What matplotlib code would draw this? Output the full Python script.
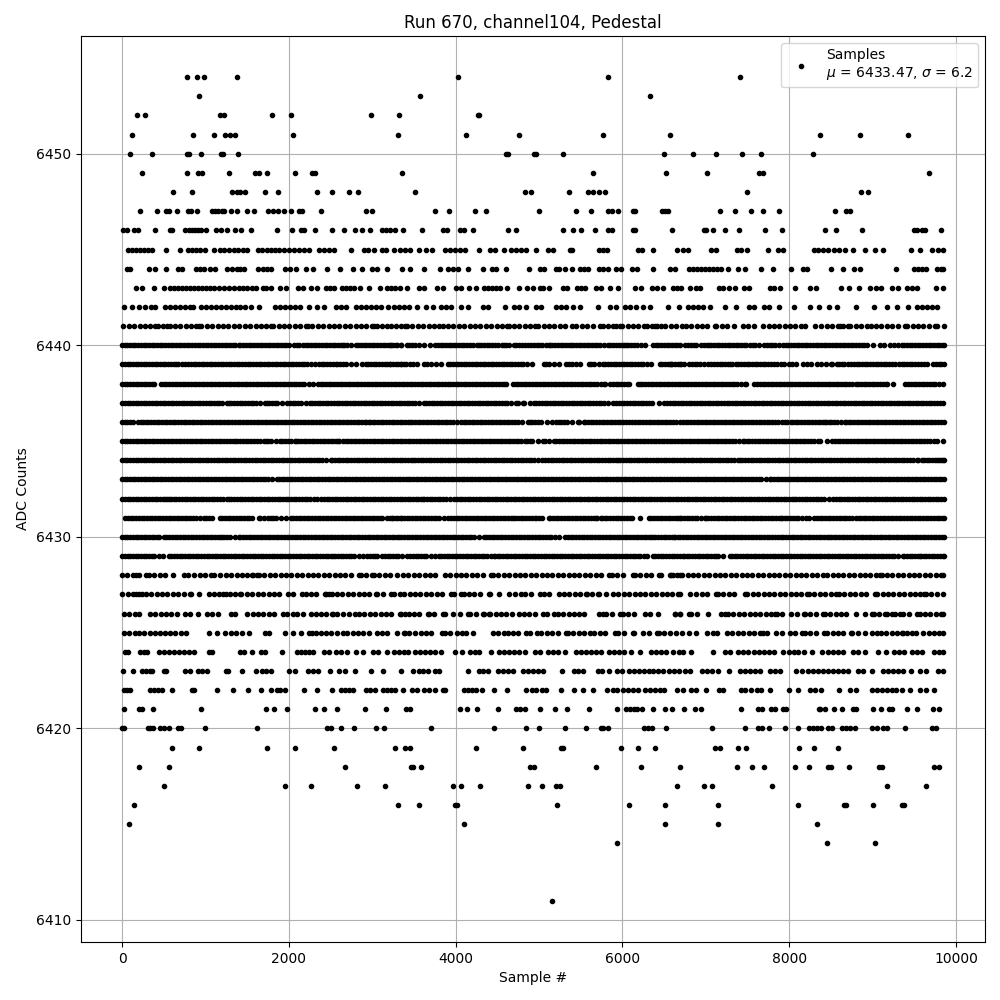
import matplotlib
matplotlib.use("Agg")
import matplotlib.pyplot as plt

# sample numbers, one list per ADC level
s6454 = [774, 894, 978, 1373, 4030, 5828, 7408]
s6453 = [918, 3575, 6331]
s6452 = [176, 271, 1180, 1220, 1792, 2031, 2988, 3323, 4269, 4280]
s6451 = [116, 846, 1097, 1229, 1289, 1349, 2055, 3312, 4126, 4760, 5769, 6570, 8366, 8845, 9431]
s6450 = [92, 355, 775, 806, 946, 1190, 1215, 1385, 4608, 4625, 4936, 4960, 5290, 6499, 6848, 7121, 7432, 7660, 8282]
s6449 = [235, 774, 914, 958, 1277, 1588, 1636, 1732, 2079, 2280, 2312, 3360, 5649, 6523, 7013, 7644, 7684, 9683]
s6448 = [606, 834, 1313, 1373, 1420, 1480, 1708, 1875, 2342, 2522, 2725, 2833, 3515, 4832, 4907, 5362, 5589, 5649,
         5721, 5793, 7492, 8857, 8941]
s6447 = [211, 415, 523, 559, 654, 786, 826, 894, 1073, 1117, 1145, 1193, 1217, 1301, 1373, 1504, 1576, 1755, 1815,
         1875, 1947, 2031, 2127, 2163, 2390, 2928, 3000, 3754, 3922, 4233, 4365, 5002, 5445, 5625, 5828, 5876, 5948,
         6128, 6152, 6475, 6511, 6547, 7169, 7349, 7541, 7684, 7876, 8546, 8678, 8726]
s6446 = [8, 56, 140, 188, 391, 571, 595, 750, 798, 834, 870, 906, 942, 1001, 1121, 1181, 1253, 1349, 1432, 1540, 1863,
         2043, 2151, 2187, 2318, 2522, 2665, 2797, 2881, 2977, 3120, 3168, 3216, 3276, 3372, 3599, 3850, 3898, 4054,
         4102, 4209, 4628, 4724, 5282, 5410, 5505, 5673, 5828, 5876, 6128, 6152, 6595, 6978, 7002, 7085, 7229, 7397,
         7708, 7911, 8426, 8558, 8869, 9503, 9539, 9599, 9635, 9827]
s6445 = [68, 116, 164, 211, 259, 307, 355, 523, 690, 786, 834, 882, 930, 990, 1097, 1169, 1217, 1277, 1337, 1396, 1456,
         1504, 1624, 1672, 1743, 1791, 1839, 1887, 1947, 2007, 2067, 2127, 2187, 2247, 2366, 2426, 2486, 2546, 2749,
         2905, 2953, 3025, 3120, 3168, 3264, 3336, 3396, 3456, 3563, 3647, 3719, 3874, 3930, 3994, 4050, 4114, 4281,
         4413, 4472, 4580, 4664, 4724, 4788, 4848, 4968, 5108, 5168, 5368, 5400, 5720, 5768, 5816, 6188, 6236, 6368,
         6656, 6728, 6788, 7064, 7128, 7376, 7424, 7496, 7748, 7868, 7928, 8300, 8348, 8408, 8468, 8540, 8600, 8672,
         8768, 8912, 9032, 9124, 9464, 9572, 9716, 9788, 9848]
s6444 = [56, 92, 319, 391, 523, 666, 714, 882, 930, 978, 1049, 1109, 1253, 1313, 1373, 1420, 1468, 1624, 1684, 1743,
         1791, 1959, 2019, 2091, 2211, 2295, 2461, 2617, 2773, 2881, 3000, 3060, 3180, 3360, 3456, 3623, 3814, 3910,
         3970, 4030, 4150, 4329, 4437, 4485, 4604, 4880, 5016, 5064, 5200, 5240, 5312, 5400, 5488, 5536, 5584, 5720,
         5768, 5828, 5928, 5980, 6116, 6176, 6368, 6568, 6632, 6800, 6848, 6896, 6944, 6992, 7040, 7088, 7136, 7184,
         7272, 7388, 7472, 7664, 7808, 8024, 8168, 8216, 8504, 8648, 8780, 8852, 9284, 9500, 9548, 9596, 9644, 9768,
         9816, 9848]
s6443 = [164, 235, 379, 499, 571, 618, 666, 714, 762, 810, 858, 906, 954, 1001, 1049, 1097, 1157, 1217, 1277, 1337,
         1408, 1456, 1504, 1552, 1600, 1684, 1728, 1791, 1899, 1971, 2115, 2175, 2271, 2342, 2450, 2498, 2546, 2641,
         2689, 2737, 2785, 2857, 2965, 3096, 3180, 3228, 3276, 3336, 3416, 3563, 3623, 3779, 3850, 4006, 4066, 4162,
         4245, 4341, 4389, 4437, 4485, 4532, 4616, 4760, 4856, 4928, 5008, 5048, 5120, 5288, 5336, 5456, 5504, 5552,
         5688, 5744, 5848, 5948, 6152, 6224, 6356, 6416, 6488, 6608, 6656, 6704, 6816, 6888, 6936, 7160, 7208, 7280,
         7352, 7460, 7520, 7776, 7820, 7892, 8072, 8252, 8324, 8624, 8720, 8836, 8972, 9044, 9104, 9236, 9308, 9416,
         9476, 9536, 9764, 9848]
s6442 = [20, 116, 200, 271, 343, 391, 511, 571, 630, 690, 750, 810, 846, 942, 1001, 1061, 1121, 1181, 1241, 1301, 1361,
         1420, 1480, 1540, 1636, 1839, 1899, 1959, 2019, 2079, 2139, 2247, 2342, 2426, 2570, 2630, 2689, 2809, 2869,
         2929, 2989, 3049, 3108, 3192, 3264, 3324, 3384, 3444, 3539, 3647, 3731, 3826, 3886, 3946, 4066, 4150, 4329,
         4389, 4592, 4700, 4760, 4848, 4968, 5028, 5208, 5268, 5328, 5408, 5488, 5712, 5848, 5928, 6032, 6096, 6160,
         6248, 6336, 6548, 6680, 6788, 6848, 6908, 6968, 7048, 7228, 7360, 7520, 7580, 7700, 7760, 7880, 8060, 8248,
         8360, 8480, 8576, 8804, 9016, 9168, 9296, 9428, 9528, 9588, 9648, 9708, 9768]
s6441 = [12, 78, 142, 210, 276, 340, 400, 428, 490, 540, 572, 636, 700, 766, 830, 890, 924, 952, 1018, 1082, 1146, 1212,
         1276, 1342, 1406, 1470, 1536, 1600, 1666, 1730, 1788, 1812, 1878, 1942, 2006, 2072, 2136, 2200, 2228, 2280,
         2346, 2410, 2476, 2540, 2604, 2670, 2734, 2800, 2864, 2928, 2994, 3020, 3060, 3120, 3172, 3228, 3290, 3340,
         3392, 3416, 3482, 3546, 3612, 3676, 3742, 3800, 3844, 3910, 3974, 4040, 4104, 4168, 4234, 4298, 4364, 4428,
         4494, 4558, 4616, 4636, 4702, 4766, 4832, 4896, 4956, 4988, 5054, 5118, 5182, 5248, 5312, 5396, 5448, 5514,
         5578, 5644, 5736, 5764, 5830, 5888, 5920, 5976, 5996, 6062, 6126, 6190, 6264, 6296, 6360, 6396, 6416, 6464,
         6516, 6580, 6646, 6720, 6760, 6826, 6890, 6954, 7020, 7108, 7128, 7194, 7258, 7336, 7448, 7512, 7580, 7688,
         7754, 7818, 7882, 7948, 8012, 8076, 8142, 8188, 8312, 8376, 8456, 8516, 8580, 8608, 8648, 8700, 8732, 8798,
         8862, 8928, 8976, 9040, 9104, 9170, 9234, 9300, 9388, 9416, 9480, 9546, 9610, 9676, 9748, 9768, 9856]
s6440 = [0, 64, 128, 194, 258, 324, 388, 452, 518, 582, 648, 712, 776, 842, 906, 972, 1036, 1100, 1166, 1230, 1296,
         1360, 1400, 1420, 1486, 1550, 1616, 1680, 1744, 1810, 1874, 1940, 2000, 2060, 2124, 2172, 2200, 2266, 2330,
         2396, 2460, 2524, 2590, 2652, 2660, 2740, 2800, 2866, 2930, 2994, 3060, 3124, 3190, 3254, 3340, 3216, 3282,
         3346, 3412, 3476, 3556, 3624, 3696, 3756, 3822, 3886, 3948, 3976, 4040, 4106, 4170, 4256, 4276, 4342, 4406,
         4472, 4556, 4576, 4640, 4704, 4728, 4794, 4868, 4908, 4972, 5038, 5116, 5128, 5194, 5258, 5324, 5388, 5408,
         5474, 5538, 5602, 5668, 5732, 5784, 5824, 5890, 5954, 6024, 6040, 6106, 6170, 6276, 6368, 6432, 6498, 6562,
         6626, 6696, 6756, 6820, 6888, 6948, 7012, 7068, 7100, 7164, 7230, 7294, 7360, 7424, 7488, 7568, 7588, 7636,
         7700, 7766, 7830, 7928, 7960, 8026, 8090, 8154, 8220, 8284, 8350, 8414, 8478, 8544, 8608, 8674, 8738, 8802,
         8868, 8928, 9008, 9088, 9140, 9208, 9256, 9308, 9348, 9414, 9478, 9542, 9608, 9672, 9738, 9802, 9852]
s6439 = [0, 66, 130, 194, 260, 324, 390, 454, 518, 584, 652, 668, 720, 760, 826, 890, 956, 1020, 1084, 1150, 1214, 1280,
         1344, 1408, 1474, 1538, 1604, 1668, 1732, 1800, 1828, 1892, 1958, 2022, 2088, 2152, 2216, 2312, 2360, 2426,
         2490, 2568, 2580, 2644, 2748, 2800, 2880, 2920, 2986, 3050, 3114, 3180, 3244, 3340, 3216, 3280, 3346, 3410,
         3488, 3536, 3624, 3656, 3704, 3768, 3824, 3904, 3968, 4034, 4098, 4164, 4228, 4292, 4358, 4422, 4488, 4552,
         4616, 4682, 4746, 4812, 4916, 5056, 5120, 5236, 5328, 5392, 5496, 5596, 5660, 5768, 5796, 5862, 5926, 5992,
         6056, 6120, 6186, 6250, 6348, 6448, 6514, 6578, 6696, 6568, 6632, 6736, 6800, 6866, 6930, 7028, 7068, 7132,
         7198, 7262, 7320, 7360, 7424, 7490, 7554, 7620, 7684, 7748, 7814, 7900, 7936, 8000, 8080, 8168, 8216, 8264,
         8328, 8380, 8444, 8510, 8568, 8592, 8656, 8740, 8776, 8842, 8906, 8972, 9036, 9100, 9166, 9230, 9268, 9316,
         9382, 9446, 9510, 9576, 9652, 9728, 9794, 9852]
s6438 = [0, 64, 130, 194, 260, 324, 388, 472, 500, 564, 630, 694, 760, 824, 888, 954, 1018, 1084, 1148, 1212, 1278,
         1342, 1408, 1472, 1536, 1602, 1666, 1732, 1796, 1860, 1926, 1990, 2056, 2120, 2184, 2288, 2348, 2412, 2478,
         2542, 2608, 2672, 2736, 2802, 2866, 2932, 2996, 3060, 3126, 3190, 3256, 3320, 3384, 3450, 3514, 3580, 3644,
         3708, 3774, 3838, 3904, 3968, 4032, 4098, 4162, 4228, 4292, 4356, 4422, 4486, 4552, 4604, 4688, 4752, 4816,
         4882, 4946, 5012, 5076, 5140, 5206, 5270, 5336, 5400, 5464, 5530, 5594, 5660, 5776, 5796, 5856, 5888, 5952,
         6018, 6082, 6184, 6208, 6272, 6338, 6402, 6468, 6532, 6596, 6662, 6726, 6792, 6856, 6920, 6986, 7050, 7116,
         7180, 7244, 7310, 7374, 7468, 7488, 7580, 7616, 7682, 7746, 7812, 7876, 7940, 8006, 8070, 8136, 8200, 8264,
         8330, 8394, 8460, 8524, 8588, 8654, 8716, 8748, 8796, 8828, 8892, 8958, 9022, 9088, 9160, 9176, 9240, 9388,
         9428, 9492, 9558, 9622, 9688, 9752, 9848]
s6437 = [0, 66, 130, 196, 260, 324, 390, 454, 520, 584, 648, 714, 778, 844, 908, 972, 1038, 1102, 1168, 1260, 1280,
         1344, 1410, 1474, 1540, 1604, 1708, 1732, 1796, 1862, 1980, 2012, 2076, 2142, 2248, 2280, 2344, 2410, 2474,
         2540, 2604, 2668, 2734, 2798, 2864, 2928, 2992, 3058, 3122, 3188, 3252, 3316, 3382, 3446, 3512, 3616, 3648,
         3712, 3778, 3842, 3908, 3972, 4036, 4102, 4166, 4232, 4296, 4360, 4426, 4490, 4556, 4620, 4728, 4744, 4808,
         4824, 4896, 4936, 5000, 5066, 5130, 5196, 5260, 5324, 5390, 5454, 5520, 5584, 5648, 5714, 5778, 5888, 5928,
         5992, 6058, 6122, 6188, 6252, 6316, 6356, 6436, 6504, 6570, 6634, 6698, 6764, 6828, 6894, 6958, 7022, 7088,
         7152, 7218, 7282, 7346, 7412, 7476, 7542, 7606, 7670, 7736, 7800, 7866, 7930, 7994, 8060, 8124, 8190, 8254,
         8318, 8384, 8448, 8514, 8578, 8642, 8708, 8772, 8838, 8902, 8966, 9032, 9096, 9162, 9226, 9290, 9356, 9420,
         9486, 9548, 9576, 9640, 9706, 9770, 9848]
s6436 = [0, 64, 130, 228, 252, 316, 382, 446, 512, 576, 640, 706, 770, 836, 900, 964, 1030, 1094, 1160, 1224, 1288,
         1354, 1418, 1484, 1548, 1612, 1678, 1742, 1808, 1872, 1936, 2002, 2066, 2132, 2196, 2260, 2326, 2390, 2456,
         2520, 2584, 2650, 2714, 2780, 2844, 2908, 2960, 2972, 3036, 3102, 3166, 3232, 3296, 3360, 3428, 3448, 3512,
         3578, 3642, 3708, 3772, 3836, 3902, 3966, 4064, 4096, 4160, 4226, 4290, 4356, 4420, 4484, 4550, 4614, 4680,
         4744, 4864, 4888, 4952, 5018, 5156, 5204, 5268, 5334, 5464, 5476, 5536, 5556, 5620, 5686, 5750, 5816, 5880,
         5944, 6010, 6074, 6148, 6184, 6248, 6314, 6378, 6444, 6508, 6572, 6696, 6638, 6760, 6826, 6890, 6956, 7020,
         7084, 7150, 7214, 7280, 7344, 7408, 7474, 7538, 7604, 7668, 7732, 7798, 7862, 7956, 7976, 8028, 8048, 8112,
         8178, 8242, 8308, 8372, 8428, 8440, 8504, 8570, 8668, 8680, 8744, 8810, 8874, 8940, 9004, 9068, 9134, 9198,
         9264, 9328, 9392, 9458, 9522, 9588, 9652, 9716, 9782, 9852]
s6435 = [0, 64, 130, 194, 260, 324, 388, 454, 518, 584, 648, 712, 778, 842, 900, 932, 996, 1062, 1126, 1192, 1256,
         1332, 1352, 1416, 1482, 1546, 1612, 1700, 1720, 1784, 1892, 1920, 1984, 2068, 2080, 2144, 2210, 2274, 2340,
         2404, 2468, 2534, 2588, 2600, 2652, 2680, 2744, 2810, 2874, 2940, 2972, 3036, 3102, 3166, 3232, 3296, 3360,
         3426, 3490, 3556, 3620, 3684, 3750, 3814, 3880, 3944, 4008, 4074, 4138, 4204, 4268, 4332, 4398, 4462, 4528,
         4592, 4656, 4722, 4836, 4856, 4920, 5048, 5068, 5176, 5208, 5272, 5338, 5402, 5468, 5532, 5596, 5662, 5726,
         5792, 5856, 5920, 5986, 6050, 6116, 6180, 6244, 6310, 6374, 6440, 6504, 6568, 6634, 6698, 6764, 6828, 6892,
         6958, 7022, 7088, 7152, 7216, 7282, 7346, 7448, 7460, 7524, 7590, 7654, 7720, 7784, 7848, 7920, 7936, 8000,
         8066, 8130, 8196, 8260, 8368, 8448, 8508, 8548, 8612, 8678, 8742, 8808, 8872, 8936, 9002, 9066, 9132, 9196,
         9260, 9326, 9390, 9456, 9520, 9584, 9650, 9736, 9776, 9850]
s6434 = [0, 64, 130, 194, 258, 324, 388, 454, 518, 582, 648, 712, 778, 842, 906, 972, 1036, 1102, 1166, 1230, 1296,
         1360, 1426, 1490, 1554, 1620, 1684, 1750, 1814, 1878, 1944, 2008, 2074, 2138, 2202, 2268, 2332, 2398, 2500,
         2520, 2584, 2650, 2714, 2780, 2844, 2908, 2974, 3038, 3104, 3168, 3232, 3298, 3362, 3428, 3488, 3516, 3580,
         3646, 3710, 3776, 3840, 3904, 3970, 4034, 4100, 4164, 4228, 4294, 4358, 4424, 4488, 4552, 4618, 4682, 4748,
         4812, 4876, 4942, 5036, 5076, 5140, 5206, 5270, 5336, 5400, 5464, 5530, 5594, 5660, 5724, 5788, 5854, 5928,
         5944, 6008, 6074, 6138, 6204, 6268, 6332, 6398, 6462, 6528, 6592, 6656, 6722, 6786, 6852, 6916, 6980, 7046,
         7110, 7176, 7240, 7304, 7388, 7408, 7472, 7538, 7602, 7668, 7732, 7796, 7862, 7926, 7992, 8056, 8120, 8186,
         8256, 8280, 8344, 8410, 8474, 8540, 8604, 8668, 8734, 8798, 8864, 8928, 8992, 9058, 9122, 9188, 9252, 9316,
         9382, 9446, 9528, 9548, 9588, 9616, 9680, 9746, 9800, 9816, 9852]
s6433 = [0, 64, 128, 194, 258, 322, 388, 452, 518, 582, 646, 712, 776, 842, 906, 970, 1036, 1100, 1166, 1230, 1294,
         1360, 1424, 1490, 1554, 1618, 1684, 1748, 1860, 1880, 1944, 2010, 2074, 2140, 2204, 2268, 2334, 2398, 2464,
         2528, 2592, 2658, 2722, 2788, 2852, 2916, 2982, 3046, 3112, 3176, 3240, 3306, 3370, 3428, 3456, 3520, 3586,
         3650, 3716, 3780, 3844, 3910, 3974, 4040, 4104, 4168, 4234, 4298, 4364, 4428, 4492, 4558, 4622, 4688, 4752,
         4816, 4882, 4946, 5012, 5076, 5140, 5206, 5270, 5336, 5400, 5464, 5530, 5594, 5660, 5724, 5788, 5854, 5918,
         5984, 6048, 6112, 6178, 6242, 6308, 6372, 6436, 6502, 6566, 6632, 6696, 6760, 6826, 6890, 6956, 7020, 7084,
         7150, 7214, 7280, 7344, 7408, 7474, 7538, 7604, 7668, 7768, 7788, 7852, 7918, 7982, 8048, 8112, 8176, 8242,
         8306, 8372, 8436, 8500, 8566, 8630, 8696, 8760, 8824, 8890, 8954, 9020, 9084, 9148, 9214, 9278, 9344, 9408,
         9472, 9538, 9602, 9668, 9732, 9796, 9852]
s6432 = [0, 66, 130, 196, 260, 324, 390, 454, 520, 568, 588, 652, 718, 782, 848, 912, 976, 1042, 1106, 1172, 1260,
         1280, 1344, 1410, 1474, 1540, 1604, 1668, 1734, 1798, 1864, 1928, 1992, 2058, 2122, 2188, 2252, 2340, 2388,
         2452, 2518, 2582, 2648, 2712, 2776, 2842, 2906, 2972, 3036, 3100, 3166, 3230, 3296, 3360, 3424, 3490, 3554,
         3608, 3624, 3688, 3754, 3818, 3884, 3976, 4016, 4080, 4146, 4210, 4276, 4340, 4404, 4470, 4534, 4600, 4664,
         4728, 4794, 4858, 4924, 4988, 5052, 5118, 5182, 5248, 5312, 5376, 5442, 5506, 5572, 5636, 5700, 5766, 5830,
         5896, 5960, 6024, 6090, 6154, 6220, 6284, 6348, 6414, 6478, 6544, 6608, 6672, 6738, 6802, 6868, 6932, 6996,
         7062, 7126, 7192, 7256, 7320, 7386, 7450, 7516, 7580, 7644, 7710, 7774, 7840, 7904, 7968, 8040, 8056, 8120,
         8186, 8250, 8316, 8380, 8480, 8528, 8592, 8658, 8722, 8788, 8852, 8916, 8982, 9046, 9112, 9176, 9240, 9306,
         9370, 9436, 9500, 9564, 9630, 9694, 9760, 9824, 9852]
s6431 = [40, 104, 170, 234, 300, 364, 428, 494, 558, 624, 688, 752, 818, 882, 988, 1012, 1076, 1180, 1204, 1268, 1334,
         1398, 1464, 1528, 1640, 1652, 1752, 1780, 1844, 1960, 2020, 2084, 2150, 2214, 2280, 2344, 2408, 2474, 2538,
         2604, 2668, 2732, 2798, 2862, 2928, 2992, 3056, 3120, 3172, 3236, 3340, 3216, 3282, 3346, 3412, 3476, 3540,
         3606, 3670, 3736, 3800, 3908, 3948, 4012, 4078, 4142, 4208, 4272, 4336, 4402, 4466, 4532, 4596, 4664, 4684,
         4748, 4814, 4878, 4956, 4968, 5116, 5032, 5136, 5200, 5266, 5330, 5396, 5460, 5524, 5590, 5654, 5744, 5756,
         5820, 5886, 5950, 6016, 6096, 6116, 6216, 6316, 6380, 6446, 6510, 6576, 6640, 6696, 6704, 6770, 6834, 6900,
         6988, 7000, 7064, 7130, 7194, 7260, 7324, 7388, 7454, 7518, 7584, 7648, 7712, 7778, 7842, 7900, 7916, 7980,
         8046, 8110, 8200, 8240, 8300, 8332, 8396, 8462, 8526, 8596, 8620, 8684, 8750, 8840, 8860, 8924, 8990, 9054,
         9120, 9184, 9248, 9314, 9378, 9444, 9508, 9572, 9638, 9702, 9768, 9832, 9852]
s6430 = [0, 64, 130, 194, 260, 324, 388, 440, 500, 564, 630, 694, 760, 824, 888, 954, 1018, 1084, 1148, 1200, 1228,
         1292, 1400, 1420, 1484, 1550, 1614, 1680, 1744, 1808, 1874, 1938, 2004, 2068, 2132, 2198, 2262, 2328, 2392,
         2456, 2522, 2586, 2652, 2716, 2780, 2846, 2910, 2976, 3040, 3104, 3170, 3234, 3296, 3316, 3380, 3446, 3510,
         3576, 3640, 3704, 3770, 3834, 3900, 3964, 4028, 4094, 4158, 4224, 4336, 4368, 4432, 4498, 4562, 4628, 4692,
         4756, 4822, 4886, 4952, 5016, 5080, 5146, 5236, 5316, 5380, 5446, 5510, 5576, 5640, 5704, 5770, 5834, 5900,
         5964, 6028, 6094, 6158, 6224, 6288, 6344, 6364, 6428, 6494, 6558, 6624, 6696, 6632, 6760, 6826, 6890, 6956,
         7020, 7084, 7150, 7214, 7280, 7344, 7408, 7474, 7538, 7604, 7668, 7732, 7798, 7868, 7900, 7964, 8030, 8094,
         8160, 8224, 8288, 8354, 8418, 8480, 8500, 8564, 8630, 8694, 8760, 8824, 8888, 8954, 9018, 9084, 9148, 9212,
         9278, 9342, 9408, 9472, 9536, 9602, 9666, 9732, 9796, 9852]
s6429 = [0, 66, 130, 196, 260, 324, 360, 388, 492, 560, 624, 690, 754, 820, 884, 948, 1014, 1078, 1144, 1208, 1272,
         1338, 1402, 1468, 1532, 1596, 1662, 1726, 1792, 1856, 1920, 1986, 2050, 2116, 2180, 2244, 2310, 2374, 2440,
         2500, 2524, 2588, 2654, 2718, 2784, 2892, 2940, 3004, 3060, 3120, 3184, 3250, 3314, 3416, 3456, 3520, 3586,
         3650, 3756, 3796, 3860, 3926, 3990, 4056, 4120, 4184, 4250, 4314, 4380, 4456, 4476, 4508, 4536, 4600, 4666,
         4730, 4796, 4860, 4924, 4990, 5054, 5120, 5184, 5248, 5314, 5378, 5444, 5508, 5572, 5638, 5702, 5768, 5832,
         5896, 5962, 6026, 6092, 6156, 6216, 6256, 6368, 6396, 6460, 6526, 6590, 6656, 6728, 6740, 6804, 6870, 6934,
         7000, 7064, 7128, 7148, 7288, 7316, 7380, 7446, 7510, 7576, 7640, 7704, 7770, 7834, 7900, 7964, 8028, 8094,
         8158, 8224, 8288, 8352, 8418, 8482, 8548, 8612, 8676, 8742, 8806, 8872, 8936, 9000, 9066, 9130, 9196, 9260,
         9368, 9380, 9444, 9510, 9568, 9580, 9644, 9710, 9774, 9840, 9852]
s6428 = [0, 64, 130, 172, 200, 292, 320, 384, 450, 514, 612, 740, 788, 868, 932, 998, 1062, 1108, 1180, 1244, 1310,
         1374, 1440, 1504, 1560, 1572, 1620, 1640, 1704, 1770, 1834, 1900, 1964, 2028, 2094, 2158, 2224, 2288, 2352,
         2418, 2482, 2548, 2612, 2676, 2742, 2840, 2860, 3000, 2924, 3020, 3084, 3150, 3214, 3292, 3368, 3432, 3498,
         3562, 3628, 3692, 3756, 3876, 3936, 4000, 4066, 4130, 4196, 4260, 4324, 4428, 4448, 4512, 4578, 4642, 4708,
         4772, 4836, 4902, 4966, 5032, 5096, 5160, 5226, 5290, 5356, 5420, 5484, 5550, 5614, 5680, 5744, 5844, 5872,
         5936, 6002, 6128, 6148, 6212, 6278, 6342, 6436, 6464, 6576, 6608, 6696, 6588, 6652, 6718, 6782, 6848, 6912,
         6976, 7042, 7106, 7172, 7236, 7300, 7366, 7430, 7496, 7560, 7624, 7690, 7754, 7820, 7884, 7948, 8014, 8078,
         8144, 8208, 8272, 8338, 8400, 8456, 8520, 8586, 8650, 8716, 8780, 8844, 8910, 8974, 9040, 9088, 9108, 9172,
         9238, 9302, 9368, 9432, 9496, 9562, 9626, 9692, 9756, 9820, 9850]
s6427 = [0, 66, 130, 172, 200, 240, 284, 348, 414, 478, 544, 608, 672, 738, 812, 828, 928, 1040, 1108, 1160, 1212, 1252,
         1300, 1352, 1412, 1432, 1496, 1562, 1626, 1692, 1756, 1820, 1880, 1988, 2052, 2152, 2200, 2264, 2330, 2428,
         2444, 2484, 2512, 2576, 2642, 2706, 2772, 2836, 2900, 2966, 3040, 3060, 3124, 3220, 3260, 3336, 3384, 3448,
         3514, 3578, 3644, 3708, 3772, 3838, 3948, 3976, 4064, 4096, 4160, 4226, 4290, 4396, 4416, 4524, 4644, 4708,
         4788, 4836, 4900, 5016, 5056, 5120, 5244, 5296, 5360, 5426, 5490, 5568, 5576, 5640, 5704, 5724, 5808, 5888,
         5952, 6018, 6082, 6148, 6212, 6276, 6342, 6406, 6472, 6536, 6600, 6696, 6666, 6808, 6888, 6952, 7018, 7128,
         7148, 7212, 7278, 7342, 7468, 7500, 7564, 7630, 7694, 7760, 7824, 7888, 7954, 8018, 8084, 8148, 8220, 8236,
         8300, 8366, 8430, 8496, 8560, 8596, 8660, 8726, 8790, 8856, 8920, 9028, 9056, 9120, 9186, 9250, 9316, 9380,
         9444, 9510, 9574, 9616, 9640, 9704, 9770, 9850]
s6426 = [20, 84, 150, 208, 332, 396, 462, 526, 592, 656, 760, 820, 908, 1020, 1084, 1152, 1308, 1360, 1500, 1564, 1630,
         1694, 1760, 1824, 1932, 1972, 2044, 2100, 2164, 2260, 2320, 2384, 2450, 2512, 2532, 2580, 2652, 2716, 2792,
         2840, 2904, 2970, 3034, 3100, 3164, 3228, 3332, 3344, 3396, 3436, 3500, 3566, 3664, 3676, 3740, 3848, 3876,
         3964, 4048, 4148, 4176, 4240, 4324, 4336, 4396, 4416, 4480, 4546, 4610, 4676, 4756, 4820, 4886, 4950, 5044,
         5096, 5184, 5224, 5288, 5354, 5418, 5482, 5544, 5716, 5768, 5808, 5872, 5968, 6004, 6068, 6144, 6268, 6332,
         6432, 6636, 6696, 6628, 6692, 6800, 6828, 6892, 7028, 7188, 7236, 7268, 7332, 7398, 7462, 7526, 7592, 7656,
         7722, 7786, 7828, 7856, 7920, 8028, 8096, 8176, 8188, 8252, 8318, 8408, 8428, 8492, 8558, 8622, 8686, 8800,
         8908, 8988, 9016, 9080, 9148, 9176, 9228, 9272, 9328, 9368, 9432, 9528, 9568, 9632, 9688, 9760, 9824, 9850]
s6425 = [20, 84, 150, 200, 268, 332, 396, 460, 520, 580, 640, 712, 772, 1040, 1140, 1240, 1304, 1370, 1434, 1520, 1708,
         1760, 1948, 2052, 2140, 2240, 2280, 2328, 2380, 2444, 2510, 2574, 2648, 2700, 2764, 2830, 2894, 2960, 3060,
         3112, 3172, 3292, 3376, 3396, 3436, 3516, 3580, 3646, 3710, 3836, 3876, 3936, 4016, 4076, 4128, 4208, 4444,
         4510, 4576, 4624, 4688, 4754, 4848, 4888, 4976, 5028, 5092, 5158, 5222, 5324, 5344, 5408, 5474, 5538, 5616,
         5664, 5728, 5794, 5916, 5952, 6016, 6124, 6136, 6248, 6316, 6416, 6436, 6500, 6566, 6644, 6720, 6800, 6888,
         7016, 7088, 7140, 7256, 7320, 7386, 7450, 7516, 7580, 7656, 7688, 7740, 7848, 7920, 8008, 8072, 8160, 8188,
         8252, 8318, 8420, 8456, 8520, 8586, 8650, 8740, 8756, 8820, 8908, 8996, 9056, 9100, 9164, 9230, 9294, 9348,
         9368, 9408, 9468, 9520, 9608, 9672, 9738, 9802, 9850]
s6424 = [40, 76, 219, 259, 299, 439, 499, 559, 618, 678, 738, 798, 858, 1037, 1081, 1416, 1464, 1552, 1660, 1708, 1923,
         2095, 2143, 2191, 2247, 2294, 2426, 2486, 2570, 2621, 2701, 2809, 2893, 3012, 3072, 3172, 3264, 3324, 3384,
         3432, 3511, 3571, 3631, 3691, 3751, 3822, 3994, 4078, 4170, 4229, 4277, 4425, 4520, 4580, 4640, 4700, 4760,
         4832, 4948, 5008, 5108, 5168, 5228, 5308, 5444, 5504, 5564, 5624, 5684, 5744, 5840, 5900, 5960, 6020, 6100,
         6212, 6344, 6404, 6464, 6524, 6608, 6680, 6728, 6824, 7088, 7232, 7292, 7388, 7448, 7508, 7580, 7640, 7700,
         7760, 7820, 7928, 8000, 8060, 8108, 8180, 8280, 8396, 8468, 8528, 8588, 8648, 8768, 8828, 8908, 9068, 9164,
         9260, 9320, 9380, 9476, 9536, 9596, 9740, 9792, 9848]
s6423 = [8, 136, 243, 291, 339, 363, 499, 531, 750, 810, 906, 954, 1013, 1241, 1265, 1444, 1600, 1672, 1720, 1791, 2007,
         2079, 2234, 2294, 2354, 2498, 2605, 2677, 2797, 2989, 3132, 3348, 3491, 3563, 3611, 3671, 3755, 3802, 4150,
         4281, 4329, 4389, 4509, 4569, 4628, 4688, 4808, 4868, 4928, 4988, 5048, 5276, 5420, 5468, 5528, 5708, 5756,
         5840, 5936, 6000, 6080, 6140, 6200, 6260, 6320, 6368, 6428, 6488, 6560, 6620, 6680, 6748, 6812, 6956, 7016,
         7076, 7148, 7280, 7412, 7472, 7532, 7592, 7656, 7772, 7832, 7892, 8084, 8156, 8228, 8288, 8348, 8408, 8468,
         8528, 8588, 8648, 8708, 8828, 8888, 8996, 9128, 9188, 9248, 9308, 9368, 9456, 9568, 9636, 9788, 9840]
s6422 = [28, 60, 100, 339, 387, 427, 475, 595, 834, 866, 1133, 1325, 1512, 1660, 1791, 1855, 1895, 1959, 2187, 2342,
         2522, 2621, 2673, 2725, 2773, 2925, 2973, 3036, 3132, 3180, 3228, 3276, 3372, 3480, 3540, 3624, 3683, 3755,
         3850, 3874, 4102, 4150, 4197, 4249, 4317, 4457, 4616, 4840, 4920, 4968, 5032, 5080, 5268, 5420, 5528, 5648,
         5816, 5888, 5936, 6008, 6068, 6128, 6188, 6268, 6328, 6388, 6448, 6496, 6656, 6728, 6828, 6880, 7004, 7160,
         7208, 7424, 7472, 7544, 7616, 7664, 7772, 8000, 8108, 8248, 8312, 8384, 8592, 8732, 8804, 8988, 9056, 9108,
         9168, 9228, 9276, 9356, 9452, 9564, 9644, 9740]
s6421 = [20, 200, 235, 367, 942, 1720, 1827, 1983, 2318, 2426, 2581, 2917, 3168, 3408, 3456, 4054, 4138, 4257, 4509,
         4724, 4772, 4832, 5012, 5192, 5336, 5600, 5936, 6048, 6096, 6144, 6176, 6236, 6368, 6512, 6596, 6740, 6872,
         6944, 7424, 7628, 7676, 7784, 7832, 7928, 7964, 8352, 8372, 8432, 8540, 8636, 8768, 8804, 9008, 9104, 9200,
         9236, 9416, 9536, 9728, 9800]
s6420 = [0, 28, 307, 339, 367, 459, 499, 559, 666, 710, 990, 1620, 2462, 2510, 2629, 2785, 3048, 3144, 3707, 4461, 4844,
         4996, 5312, 5564, 5744, 5768, 5828, 6260, 6308, 6356, 6524, 7076, 7472, 7628, 7676, 7760, 7952, 8108, 8240,
         8288, 8336, 8384, 8468, 8516, 8636, 8684, 8732, 8792, 8996, 9056, 9128, 9176, 9392, 9716, 9764]
s6419 = [595, 918, 1732, 2079, 2546, 3276, 3396, 3456, 4245, 4808, 5264, 5288, 5984, 6188, 6392, 7112, 7172, 7388, 7484,
         8120, 8300, 8588]
s6418 = [200, 559, 2677, 3467, 3491, 3587, 4888, 4936, 5684, 6224, 6692, 7376, 7556, 7700, 8072, 8240, 8468, 8504, 8720,
         9080, 9116, 9740, 9800]
s6417 = [499, 1959, 2270, 2821, 3156, 3970, 4066, 4293, 4868, 5036, 5204, 5252, 6656, 6980, 7076, 7796, 9176, 9644]
s6416 = [140, 3312, 3563, 3994, 4018, 5216, 6080, 6512, 7148, 8108, 8660, 8684, 9008, 9356, 9380]
s6415 = [80, 4102, 6512, 7148, 8336]
s6414 = [5940, 8455, 9030]
s6411 = [5150]

# more samples for the levels where the dots run together into a solid line
more_6438 = [32, 98, 162, 228, 292, 356, 532, 598, 662, 728, 792, 858, 922, 986, 1052, 1116, 1180, 1246, 1310, 1376,
             1440, 1504, 1570, 1634, 1700, 1764, 1828, 1894, 1958, 2024, 2088, 2152, 2236, 2380, 2446, 2510, 2576, 2640,
             2704, 2770, 2834, 2900, 2964, 3028, 3094, 3158, 3224, 3288, 3352, 3418, 3482, 3548, 3612, 3676, 3742, 3806,
             3872, 3936, 4000, 4066, 4130, 4196, 4260, 4324, 4390, 4454, 4520, 4578, 4720, 4784, 4850, 4914, 4980, 5044,
             5108, 5174, 5238, 5304, 5368, 5432, 5498, 5562, 5628, 5700, 5740, 5920, 5986, 6050, 6240, 6306, 6370, 6436,
             6500, 6564, 6630, 6694, 6760, 6824, 6888, 6954, 7018, 7084, 7148, 7212, 7278, 7342, 7420, 7650, 7714, 7780,
             7844, 7908, 7974, 8038, 8104, 8168, 8232, 8298, 8362, 8428, 8492, 8556, 8622, 8686, 8860, 8926, 8990, 9056,
             9120, 9460, 9524, 9590, 9654, 9720, 9800]
more_6437 = [32, 98, 162, 228, 292, 358, 422, 486, 552, 616, 680, 746, 810, 876, 940, 1004, 1070, 1134, 1200, 1312, 1376,
             1442, 1506, 1572, 1650, 1764, 1830, 1920, 2044, 2110, 2200, 2312, 2376, 2442, 2506, 2572, 2636, 2700, 2766,
             2830, 2896, 2960, 3024, 3090, 3154, 3220, 3284, 3348, 3414, 3478, 3560, 3680, 3744, 3810, 3874, 3940, 4004,
             4068, 4134, 4198, 4264, 4328, 4392, 4458, 4522, 4588, 4670, 4968, 5032, 5098, 5162, 5228, 5292, 5356, 5422,
             5486, 5552, 5616, 5680, 5746, 5830, 5960, 6024, 6090, 6154, 6220, 6284, 6536, 6602, 6666, 6730, 6796, 6860,
             6926, 6990, 7054, 7120, 7184, 7250, 7314, 7378, 7444, 7508, 7574, 7638, 7702, 7768, 7832, 7898, 7962, 8026,
             8092, 8156, 8222, 8286, 8350, 8416, 8480, 8546, 8610, 8674, 8740, 8804, 8870, 8934, 8998, 9064, 9128, 9194,
             9258, 9322, 9388, 9452, 9518, 9608, 9672, 9738, 9810]
more_6436 = [32, 98, 190, 284, 348, 414, 478, 544, 608, 672, 738, 802, 868, 932, 996, 1062, 1126, 1192, 1256, 1320, 1386,
             1450, 1516, 1580, 1644, 1710, 1774, 1840, 1904, 1968, 2034, 2098, 2164, 2228, 2292, 2358, 2422, 2488, 2552,
             2616, 2682, 2746, 2812, 2876, 2930, 3004, 3068, 3134, 3198, 3264, 3328, 3392, 3480, 3544, 3610, 3674, 3740,
             3804, 3868, 3934, 4020, 4128, 4192, 4258, 4322, 4388, 4452, 4516, 4582, 4646, 4712, 4800, 4920, 4984, 5090,
             5236, 5300, 5400, 5588, 5652, 5718, 5782, 5848, 5912, 5976, 6042, 6110, 6216, 6280, 6346, 6410, 6476, 6540,
             6604, 6728, 6792, 6858, 6922, 6988, 7052, 7116, 7182, 7246, 7312, 7376, 7440, 7506, 7570, 7636, 7700, 7764,
             7830, 7910, 8080, 8144, 8210, 8274, 8340, 8404, 8472, 8536, 8620, 8712, 8776, 8842, 8906, 8972, 9036, 9100,
             9166, 9230, 9296, 9360, 9424, 9490, 9554, 9620, 9684, 9748, 9816]
more_6435 = [32, 98, 162, 228, 292, 356, 422, 486, 552, 616, 680, 746, 810, 870, 964, 1030, 1094, 1160, 1224, 1290, 1384,
             1450, 1514, 1580, 1656, 1752, 1840, 1950, 2030, 2112, 2176, 2242, 2306, 2372, 2436, 2500, 2560, 2712, 2776,
             2842, 2906, 3004, 3068, 3134, 3198, 3264, 3328, 3392, 3458, 3522, 3588, 3652, 3716, 3782, 3846, 3912, 3976,
             4040, 4106, 4170, 4236, 4300, 4364, 4430, 4494, 4560, 4624, 4688, 4754, 4790, 4888, 4984, 5120, 5240, 5304,
             5370, 5434, 5500, 5564, 5628, 5694, 5758, 5824, 5888, 5952, 6018, 6082, 6148, 6212, 6276, 6342, 6406, 6472,
             6536, 6600, 6666, 6730, 6796, 6860, 6924, 6990, 7054, 7120, 7184, 7248, 7314, 7400, 7492, 7556, 7622, 7686,
             7752, 7816, 7880, 7968, 8032, 8098, 8162, 8228, 8300, 8340, 8580, 8644, 8710, 8774, 8840, 8904, 8968, 9034,
             9098, 9164, 9228, 9292, 9358, 9422, 9488, 9552, 9616, 9690]
more_6434 = [32, 98, 162, 226, 292, 356, 422, 486, 550, 616, 680, 746, 810, 874, 940, 1004, 1070, 1134, 1198, 1264, 1328,
             1394, 1458, 1522, 1588, 1652, 1718, 1782, 1846, 1912, 1976, 2042, 2106, 2170, 2236, 2300, 2366, 2450, 2552,
             2618, 2682, 2748, 2812, 2876, 2942, 3006, 3072, 3136, 3200, 3266, 3330, 3396, 3460, 3548, 3614, 3678, 3744,
             3808, 3872, 3938, 4002, 4068, 4132, 4196, 4262, 4326, 4392, 4456, 4520, 4586, 4650, 4716, 4780, 4844, 4910,
             4990, 5108, 5172, 5238, 5302, 5368, 5432, 5498, 5562, 5626, 5692, 5756, 5822, 5890, 5976, 6040, 6106, 6170,
             6236, 6300, 6364, 6430, 6494, 6560, 6624, 6688, 6754, 6818, 6884, 6948, 7012, 7078, 7142, 7208, 7272, 7340,
             7440, 7504, 7570, 7634, 7700, 7764, 7828, 7894, 7958, 8024, 8088, 8152, 8218, 8312, 8376, 8442, 8506, 8572,
             8636, 8700, 8766, 8830, 8896, 8960, 9024, 9090, 9154, 9220, 9284, 9348, 9414, 9480, 9648, 9712, 9778, 9840]
more_6433 = [32, 96, 160, 226, 290, 354, 420, 484, 550, 614, 678, 744, 808, 874, 938, 1002, 1068, 1132, 1198, 1262, 1326,
             1392, 1456, 1522, 1586, 1650, 1716, 1800, 1912, 1976, 2042, 2106, 2172, 2236, 2300, 2366, 2430, 2496, 2560,
             2624, 2690, 2754, 2820, 2884, 2948, 3014, 3078, 3144, 3208, 3272, 3338, 3400, 3488, 3552, 3618, 3682, 3748,
             3812, 3876, 3942, 4006, 4072, 4136, 4200, 4266, 4330, 4396, 4460, 4524, 4590, 4654, 4720, 4784, 4848, 4914,
             4978, 5044, 5108, 5172, 5238, 5302, 5368, 5432, 5496, 5562, 5626, 5692, 5756, 5820, 5886, 5950, 6016, 6080,
             6144, 6210, 6274, 6340, 6404, 6468, 6534, 6598, 6664, 6728, 6792, 6858, 6922, 6988, 7052, 7116, 7182, 7246,
             7312, 7376, 7440, 7506, 7570, 7636, 7720, 7820, 7884, 7950, 8014, 8080, 8144, 8208, 8274, 8338, 8404, 8468,
             8532, 8598, 8662, 8728, 8792, 8856, 8922, 8986, 9052, 9116, 9180, 9246, 9310, 9376, 9440, 9504, 9570, 9634,
             9700, 9764, 9826]
more_6432 = [32, 98, 162, 228, 292, 356, 422, 486, 544, 620, 684, 750, 814, 880, 944, 1008, 1074, 1138, 1216, 1312, 1376,
             1442, 1506, 1572, 1636, 1700, 1766, 1830, 1896, 1960, 2024, 2090, 2154, 2220, 2296, 2420, 2484, 2550, 2614,
             2680, 2744, 2808, 2874, 2938, 3004, 3068, 3132, 3198, 3262, 3328, 3392, 3456, 3522, 3580, 3656, 3720, 3786,
             3850, 3930, 4048, 4112, 4178, 4242, 4308, 4372, 4436, 4502, 4566, 4632, 4696, 4760, 4826, 4890, 4956, 5020,
             5084, 5150, 5214, 5280, 5344, 5408, 5474, 5538, 5604, 5668, 5732, 5798, 5862, 5928, 5992, 6056, 6122, 6186,
             6252, 6316, 6380, 6446, 6510, 6576, 6640, 6704, 6770, 6834, 6900, 6964, 7028, 7094, 7158, 7224, 7288, 7352,
             7418, 7482, 7548, 7612, 7676, 7742, 7806, 7872, 7936, 8000, 8088, 8152, 8218, 8282, 8348, 8420, 8560, 8624,
             8690, 8754, 8820, 8884, 8948, 9014, 9078, 9144, 9208, 9272, 9338, 9402, 9468, 9532, 9596, 9662, 9726, 9790]
more_6431 = [72, 136, 202, 266, 332, 396, 460, 526, 590, 656, 720, 784, 850, 934, 1044, 1236, 1300, 1366, 1430, 1496,
             1560, 1700, 1812, 1900, 2052, 2116, 2182, 2246, 2312, 2376, 2440, 2506, 2570, 2636, 2700, 2764, 2830, 2894,
             2960, 3024, 3088, 3250, 3314, 3378, 3444, 3508, 3572, 3638, 3702, 3768, 3860, 3980, 4044, 4110, 4174, 4240,
             4304, 4368, 4434, 4498, 4564, 4628, 4716, 4780, 4846, 4916, 5000, 5168, 5232, 5298, 5362, 5428, 5492, 5556,
             5622, 5686, 5700, 5788, 5852, 5918, 5984, 6060, 6348, 6412, 6478, 6542, 6608, 6672, 6736, 6802, 6866, 6944,
             7032, 7096, 7162, 7226, 7292, 7356, 7420, 7486, 7550, 7616, 7680, 7744, 7810, 7874, 7948, 8012, 8078, 8150,
             8364, 8428, 8494, 8558, 8652, 8716, 8800, 8892, 8956, 9022, 9086, 9152, 9216, 9280, 9346, 9410, 9476, 9540,
             9604, 9670, 9734, 9800]
more_6430 = [32, 98, 162, 228, 292, 356, 414, 532, 598, 662, 728, 792, 856, 922, 986, 1052, 1116, 1176, 1260, 1350, 1452,
             1518, 1582, 1648, 1712, 1776, 1842, 1906, 1972, 2036, 2100, 2166, 2230, 2296, 2360, 2424, 2490, 2554, 2620,
             2684, 2748, 2814, 2878, 2944, 3008, 3072, 3138, 3202, 3266, 3348, 3412, 3478, 3542, 3608, 3672, 3736, 3802,
             3866, 3932, 3996, 4060, 4126, 4190, 4280, 4400, 4466, 4530, 4596, 4660, 4724, 4790, 4854, 4920, 4984, 5048,
             5114, 5190, 5348, 5412, 5478, 5542, 5608, 5672, 5736, 5802, 5866, 5932, 5996, 6060, 6126, 6190, 6256, 6320,
             6396, 6460, 6526, 6590, 6664, 6728, 6792, 6858, 6922, 6988, 7052, 7116, 7182, 7246, 7312, 7376, 7440, 7506,
             7570, 7636, 7700, 7764, 7830, 7932, 7996, 8062, 8126, 8192, 8256, 8320, 8386, 8450, 8532, 8596, 8662, 8726,
             8792, 8856, 8920, 8986, 9050, 9116, 9180, 9244, 9310, 9374, 9440, 9504, 9568, 9634, 9698, 9764, 9830]
more_6429 = [32, 98, 162, 228, 292, 440, 592, 656, 722, 786, 852, 916, 980, 1046, 1110, 1176, 1240, 1304, 1370, 1434,
             1500, 1564, 1628, 1694, 1758, 1824, 1888, 1952, 2018, 2082, 2148, 2212, 2276, 2342, 2406, 2470, 2556, 2620,
             2686, 2750, 2840, 2972, 3030, 3152, 3216, 3282, 3360, 3488, 3552, 3618, 3700, 3828, 3892, 3958, 4022, 4088,
             4152, 4216, 4282, 4346, 4420, 4568, 4632, 4698, 4762, 4828, 4892, 4956, 5022, 5086, 5152, 5216, 5280, 5346,
             5410, 5476, 5540, 5604, 5670, 5734, 5800, 5864, 5928, 5994, 6058, 6124, 6188, 6300, 6428, 6492, 6558, 6622,
             6690, 6772, 6836, 6902, 6966, 7032, 7096, 7210, 7348, 7412, 7478, 7542, 7608, 7672, 7736, 7802, 7866, 7932,
             7996, 8060, 8126, 8190, 8256, 8320, 8384, 8450, 8514, 8580, 8644, 8708, 8774, 8838, 8904, 8968, 9032, 9098,
             9162, 9228, 9300, 9412, 9476, 9540, 9612, 9676, 9742, 9806]
more_6440 = [32, 96, 160, 226, 290, 356, 420, 484, 550, 614, 680, 744, 808, 874, 938, 1004, 1068, 1132, 1198, 1262, 1328,
             1452, 1518, 1582, 1648, 1712, 1776, 1842, 1906, 1970, 2092, 2232, 2298, 2362, 2428, 2492, 2556, 2620, 2700,
             2832, 2898, 2962, 3026, 3092, 3156, 3222, 3300, 3444, 3510, 3790, 3854, 3916, 4008, 4072, 4138, 4210, 4308,
             4374, 4438, 4510, 4608, 4760, 4830, 4940, 5004, 5078, 5160, 5226, 5290, 5356, 5440, 5506, 5570, 5634, 5700,
             5856, 5922, 5990, 6072, 6138, 6220, 6400, 6466, 6530, 6594, 6660, 6788, 6854, 6980, 7040, 7132, 7196, 7262,
             7326, 7392, 7456, 7528, 7732, 7798, 7880, 7992, 8058, 8122, 8186, 8252, 8316, 8382, 8446, 8510, 8576, 8640,
             8706, 8770, 8834, 8900, 9380, 9446, 9510, 9574, 9640, 9704, 9770, 9830]
more_6439 = [32, 98, 162, 228, 292, 358, 422, 486, 552, 618, 792, 858, 922, 988, 1052, 1116, 1182, 1246, 1312, 1376,
             1440, 1506, 1570, 1636, 1700, 1764, 1860, 1924, 1990, 2054, 2120, 2184, 2264, 2392, 2458, 2530, 2612, 2680,
             2952, 3018, 3082, 3148, 3212, 3310, 3378, 3450, 3936, 4000, 4066, 4130, 4196, 4260, 4324, 4390, 4454, 4520,
             4584, 4648, 4714, 4780, 4860, 5088, 5180, 5360, 5440, 5628, 5720, 5830, 5894, 5960, 6024, 6088, 6154, 6218,
             6300, 6480, 6546, 6600, 6664, 6700, 6832, 6898, 6980, 7100, 7166, 7230, 7290, 7392, 7458, 7522, 7588, 7652,
             7716, 7782, 7860, 8040, 8500, 8630, 8700, 8808, 8874, 8938, 9004, 9068, 9132, 9198, 9350, 9414, 9478, 9544,
             9614, 9760, 9826]

levels = [6454, 6453, 6452, 6451, 6450, 6449, 6448, 6447, 6446, 6445, 6444, 6443, 6442, 6441, 6440, 6439, 6438, 6437,
          6436, 6435, 6434, 6433, 6432, 6431, 6430, 6429, 6428, 6427, 6426, 6425, 6424, 6423, 6422, 6421, 6420, 6419,
          6418, 6417, 6416, 6415, 6414, 6411]
samples = [s6454, s6453, s6452, s6451, s6450, s6449, s6448, s6447, s6446, s6445, s6444, s6443, s6442, s6441,
           s6440 + more_6440, s6439 + more_6439, s6438 + more_6438, s6437 + more_6437, s6436 + more_6436,
           s6435 + more_6435, s6434 + more_6434, s6433 + more_6433, s6432 + more_6432, s6431 + more_6431,
           s6430 + more_6430, s6429 + more_6429, s6428, s6427, s6426, s6425,
           s6424, s6423, s6422, s6421, s6420, s6419, s6418, s6417, s6416, s6415, s6414, s6411]

xs = []
ys = []
for level, row in zip(levels, samples):
    xs.extend(row)
    ys.extend([level] * len(row))

fig, ax = plt.subplots(figsize=(10, 10), dpi=100)
ax.plot(xs, ys, "k.", label="Samples\n$\\mu$ = 6433.47, $\\sigma$ = 6.2")
ax.set_title("Run 670, channel104, Pedestal")
ax.set_xlabel("Sample #")
ax.set_ylabel("ADC Counts")
ax.grid(True)
ax.legend(loc="upper right")
fig.subplots_adjust(left=0.081, right=0.985, top=0.964, bottom=0.058)
fig.savefig("out.png", dpi=100)
